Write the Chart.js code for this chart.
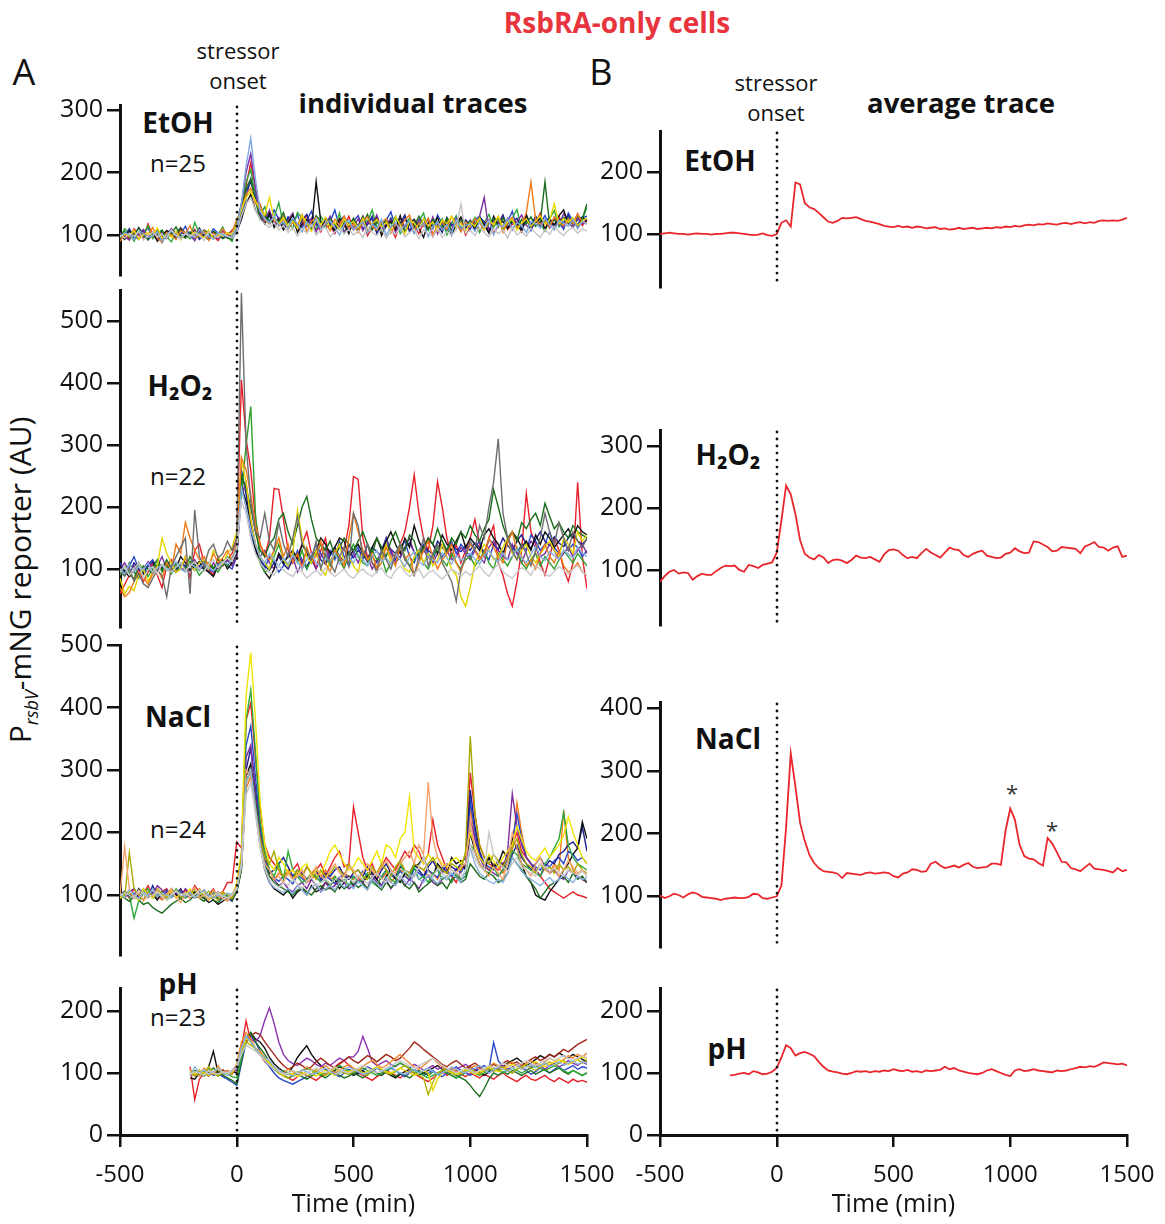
<!DOCTYPE html>
<html><head><meta charset="utf-8">
<script src="https://cdn.jsdelivr.net/npm/chart.js@4.4.1/dist/chart.umd.min.js"></script>
<style>
body{margin:0;background:#fff;width:1165px;height:1224px;position:relative;overflow:hidden;font-family:"Open Sans",sans-serif;color:#111;}
canvas{position:absolute;}
.t{position:absolute;transform:translate(-50%,-50%);white-space:nowrap;line-height:1;}
.b{font-weight:700;}
</style></head><body>
<div class="t b" style="left:617px;top:22px;font-size:28px;color:#e8343c">RsbRA-only cells</div>
<div class="t" style="left:24px;top:72px;font-size:36px">A</div>
<div class="t" style="left:601px;top:72px;font-size:36px">B</div>
<div class="t" style="left:238px;top:50px;font-size:22px">stressor</div>
<div class="t" style="left:238px;top:80px;font-size:22px">onset</div>
<div class="t b" style="left:413px;top:103px;font-size:27.5px">individual traces</div>
<div class="t" style="left:776px;top:82px;font-size:22px">stressor</div>
<div class="t" style="left:776px;top:112px;font-size:22px">onset</div>
<div class="t b" style="left:961px;top:103px;font-size:27.5px">average trace</div>
<div class="t b" style="left:178px;top:122px;font-size:28px">EtOH</div>
<div class="t" style="left:178px;top:163px;font-size:24px">n=25</div>
<div class="t b" style="left:180px;top:385px;font-size:28px">H₂O₂</div>
<div class="t" style="left:178px;top:476px;font-size:24px">n=22</div>
<div class="t b" style="left:178px;top:716px;font-size:28px">NaCl</div>
<div class="t" style="left:178px;top:829px;font-size:24px">n=24</div>
<div class="t b" style="left:178px;top:983px;font-size:28px">pH</div>
<div class="t" style="left:178px;top:1017px;font-size:24px">n=23</div>
<div class="t b" style="left:720px;top:160px;font-size:28px">EtOH</div>
<div class="t b" style="left:728px;top:454px;font-size:28px">H₂O₂</div>
<div class="t b" style="left:728px;top:738px;font-size:28px">NaCl</div>
<div class="t b" style="left:727px;top:1048px;font-size:28px">pH</div>
<div class="t" style="left:1012px;top:792px;font-size:22px;color:#333">*</div>
<div class="t" style="left:1052px;top:829px;font-size:22px;color:#333">*</div>
<div class="t" style="left:22px;top:580px;transform:translate(-50%,-50%) rotate(-90deg);font-size:30px">P<sub style="font-style:italic;font-size:18px">rsbV</sub>-mNG reporter (AU)</div>
<script>
const times = [-500,-480,-460,-440,-420,-400,-380,-360,-340,-320,-300,-280,-260,-240,-220,-200,-180,-160,-140,-120,-100,-80,-60,-40,-20,0,20,40,60,80,100,120,140,160,180,200,220,240,260,280,300,320,340,360,380,400,420,440,460,480,500,520,540,560,580,600,620,640,660,680,700,720,740,760,780,800,820,840,860,880,900,920,940,960,980,1000,1020,1040,1060,1080,1100,1120,1140,1160,1180,1200,1220,1240,1260,1280,1300,1320,1340,1360,1380,1400,1420,1440,1460,1480,1500];
const phTimes = [-200,-180,-160,-140,-120,-100,-80,-60,-40,-20,0,20,40,60,80,100,120,140,160,180,200,220,240,260,280,300,320,340,360,380,400,420,440,460,480,500,520,540,560,580,600,620,640,660,680,700,720,740,760,780,800,820,840,860,880,900,920,940,960,980,1000,1020,1040,1060,1080,1100,1120,1140,1160,1180,1200,1220,1240,1260,1280,1300,1320,1340,1360,1380,1400,1420,1440,1460,1480,1500];
const xTicks = [-500,0,500,1000,1500];
const etohTicksL = [100,200,300];
const h2o2TicksL = [100,200,300,400,500];
const naclTicksL = [100,200,300,400,500];
const phTicks = [0,100,200];
const etohTicksR = [100,200];
const h2o2TicksR = [100,200,300];
const naclTicksR = [100,200,300,400];

// EtOH individual traces
const etohLightGray = [100,95,103,98,106,92,99,104,97,101,95,108,100,94,102,97,103,99,91,105,100,96,103,98,95,
105,130,150,160,140,125,118,112,120,108,115,104,112,98,110,103,116,100,108,113,97,105,111,102,109,
100,107,96,112,104,99,110,95,106,101,113,97,104,109,94,108,102,98,111,96,105,100,108,150,103,
107,99,112,104,97,110,102,108,95,113,100,106,98,111,103,96,109,101,114,105,99,108,112,103,110,106];
const etohLightBlue = [97,104,100,93,108,102,96,99,105,90,101,107,98,94,103,100,96,109,102,98,93,104,100,97,99,
110,150,210,255,190,138,126,119,130,115,122,110,127,118,105,121,114,126,109,118,123,112,100,117,124,
108,115,121,103,118,110,125,99,113,120,107,116,122,104,111,119,97,114,121,108,117,103,124,110,115,
118,106,121,112,124,100,117,113,126,109,120,115,104,122,118,111,127,116,108,123,119,114,125,110,122,117];
const etohYellow = [96,102,99,107,93,100,104,98,111,95,101,97,106,92,103,99,105,100,96,108,94,101,98,104,100,
115,140,160,170,155,140,132,160,125,118,128,114,122,110,131,119,106,124,117,128,112,120,109,125,116,
122,111,127,104,118,125,113,120,108,129,116,102,123,119,110,126,114,121,107,124,118,130,112,119,106,
120,114,127,109,123,117,130,112,121,125,108,119,126,114,122,131,117,124,150,118,126,120,128,115,123,127];
const etohOrange = [90,101,97,108,94,103,99,112,96,88,104,100,93,107,102,115,95,99,106,91,103,97,110,100,105,
125,140,165,175,150,150,124,118,130,114,126,109,121,115,133,104,122,128,111,119,107,125,116,130,110,
118,104,122,129,113,108,120,126,103,117,111,124,132,106,119,114,127,101,115,122,109,130,118,105,121,
113,126,119,108,123,116,130,104,120,128,112,118,135,185,124,117,122,113,129,120,115,126,118,133,121,119];
const etohDarkGreen = [99,106,95,102,110,98,93,104,100,107,96,102,113,99,95,105,101,97,108,103,96,100,94,98,92,
120,140,175,190,155,125,133,118,127,121,136,113,124,116,128,119,110,131,122,114,126,117,109,123,115,
127,112,119,133,108,121,116,124,111,128,118,105,122,114,130,117,109,125,120,113,127,104,119,124,116,
122,115,128,110,119,126,113,127,117,123,110,125,118,129,114,121,185,116,124,119,128,122,117,130,126,150];
const etohBlack = [100,93,106,98,112,101,95,104,90,99,107,102,94,109,97,103,96,111,100,93,105,98,102,95,101,
108,125,150,165,140,128,118,135,112,125,108,120,132,104,117,125,110,185,121,112,115,108,126,119,102,
124,113,130,106,118,127,99,115,122,109,131,104,118,125,111,96,120,114,128,107,121,100,117,129,112,
121,108,126,117,103,130,115,122,110,124,118,106,133,113,120,127,109,124,116,131,140,118,125,112,128,122];
const etohPurple = [104,97,92,106,100,109,96,101,93,105,98,110,102,95,100,104,91,108,97,103,99,94,107,101,96,
115,150,200,230,175,130,122,140,116,128,112,124,135,108,119,113,127,105,121,117,130,110,125,103,118,
112,126,107,121,115,132,109,118,124,104,128,113,120,106,125,117,111,129,102,122,115,108,127,119,110,
124,112,130,160,106,125,119,113,127,108,121,132,115,110,126,119,123,111,128,116,134,120,112,127,118,124];
const etohNavy = [103,97,110,95,100,106,92,101,108,97,94,104,99,110,96,102,107,93,100,105,97,102,95,101,106,
110,135,170,185,160,135,124,130,118,126,112,129,121,108,124,133,115,120,110,126,118,105,122,130,112,
119,108,125,116,130,102,121,114,127,109,118,132,105,120,113,126,110,123,117,104,128,115,121,108,124,
117,110,129,121,106,125,118,132,112,120,127,109,123,116,130,114,121,128,111,125,119,132,116,124,129,121];
const etohGreen = [95,110,103,90,107,99,115,94,102,108,97,89,105,111,100,94,120,103,98,92,106,101,113,96,90,
118,150,185,205,160,132,145,120,128,152,116,124,110,136,127,115,122,108,130,119,126,111,135,104,120,
117,109,128,121,140,113,106,124,118,130,102,115,127,110,122,135,107,119,113,126,100,118,131,109,123,
116,128,104,120,133,112,125,108,119,127,141,110,122,115,130,118,106,126,139,113,121,128,117,132,124,145];
const etohBlue = [102,96,108,99,93,105,111,97,100,88,103,109,95,101,114,98,92,106,100,97,110,103,95,99,94,
104,125,160,190,165,148,130,122,140,125,115,128,119,133,112,124,138,116,109,127,121,140,113,118,106,
122,131,110,119,126,104,115,123,137,112,108,129,117,103,121,114,126,110,132,118,107,120,125,111,117,
109,124,130,115,104,119,127,112,121,138,110,116,129,107,123,118,131,114,126,120,109,135,122,117,128,130];
const etohRed = [98,105,92,110,101,95,118,99,104,93,107,100,96,112,103,97,109,94,101,106,98,91,104,99,108,
112,140,180,215,175,140,128,135,122,118,130,112,125,108,120,131,110,118,105,127,115,102,121,113,130,
108,117,124,99,112,126,105,118,111,96,120,128,107,115,102,119,125,98,113,109,121,104,116,127,100,
112,120,106,118,125,103,114,131,109,117,122,105,128,113,119,135,108,124,116,130,112,127,119,134,115,125];

// H2O2 individual traces
const h2LightGray = [95,105,90,100,110,85,98,104,92,108,100,95,103,110,98,105,112,100,96,108,115,102,110,118,112,
130,210,190,150,125,110,100,95,90,105,98,92,88,100,95,85,92,98,90,102,95,88,94,100,90,
85,95,100,92,88,96,102,90,85,98,105,95,88,92,100,86,94,98,90,84,92,100,95,88,96,
90,98,105,95,88,100,108,96,90,85,95,102,98,90,105,100,92,88,96,104,98,92,100,106,95,90];
const h2Gray = [95,88,102,80,93,76,70,85,98,90,55,104,120,135,150,60,195,120,105,130,140,118,125,145,130,
150,545,300,210,160,150,190,145,130,175,140,120,150,185,140,130,115,145,100,125,110,95,120,135,105,
190,170,120,140,110,95,130,115,100,125,140,115,105,90,120,150,105,125,140,110,95,80,48,100,120,
145,130,170,150,200,240,310,190,150,130,115,140,125,105,130,150,190,160,140,175,150,130,160,145,135,150];
const h2LightBlue = [100,92,108,96,104,99,110,94,102,106,97,103,112,100,95,108,104,99,110,102,97,106,112,108,115,
135,230,200,165,140,120,110,125,115,105,118,108,122,112,100,115,125,110,104,118,112,126,108,115,120,
110,124,116,105,120,130,112,118,108,125,115,104,119,128,112,106,121,115,110,126,118,108,122,114,120,
125,116,108,122,130,118,112,126,115,120,132,118,110,124,136,120,114,128,122,116,130,124,118,135,126,120];
const h2Orange = [70,55,62,80,95,88,75,92,100,85,110,98,140,125,175,150,130,115,120,105,125,110,118,130,115,
140,280,260,220,170,140,125,115,130,150,120,140,110,125,100,135,115,120,145,110,95,130,120,105,150,
190,160,130,115,125,100,110,135,120,105,140,115,125,90,110,130,145,120,100,115,125,140,110,95,120,
140,130,115,125,150,135,120,110,145,160,130,120,105,115,100,125,140,120,110,130,105,95,100,110,95,90];
const h2Yellow = [85,60,72,65,90,100,80,95,105,150,125,110,95,100,120,105,98,110,115,100,130,120,108,125,135,
160,276,240,180,140,120,110,100,130,150,115,105,125,195,150,120,110,130,100,90,115,125,140,110,120,
105,95,130,115,125,100,120,140,110,125,115,100,95,120,130,110,125,105,115,140,120,100,90,55,40,
70,110,125,140,130,115,120,135,150,125,115,130,140,120,110,125,135,145,130,120,150,140,125,160,145,155];
const h2DarkGreen = [100,90,110,95,85,105,100,92,108,98,115,102,95,110,100,120,105,98,112,108,100,115,110,105,118,
130,250,230,200,160,130,120,140,150,180,190,160,140,170,200,217,180,150,140,130,145,120,135,150,140,
130,145,160,140,125,150,135,120,145,160,140,130,155,145,120,135,150,140,165,145,130,150,140,160,150,
170,155,145,165,180,228,200,170,150,160,145,175,165,180,190,170,206,185,165,175,160,150,170,160,155,150];
const h2Green = [90,105,95,82,110,98,88,100,115,95,105,92,108,100,96,112,104,90,99,110,102,95,108,120,115,
140,220,300,362,190,110,95,100,120,140,115,105,125,110,130,100,115,125,140,120,105,130,115,100,125,
140,120,110,105,130,115,120,95,110,125,140,120,105,115,130,110,100,120,135,115,105,125,110,100,115,
120,105,115,130,110,100,125,115,105,120,135,110,100,115,125,105,120,110,100,115,130,120,110,125,115,105];
const h2Black = [105,95,88,100,110,92,98,105,115,100,108,95,102,120,110,98,105,112,100,95,88,105,115,100,110,
125,230,210,170,130,110,95,85,100,125,110,120,130,115,140,125,110,130,150,140,125,135,150,145,120,
130,140,125,115,135,150,130,145,160,140,125,150,135,170,145,130,150,140,125,155,140,130,145,160,135,
150,140,130,155,165,150,140,125,145,160,150,135,145,130,155,140,160,150,135,145,155,165,150,170,160,155];
const h2Purple = [100,110,95,105,90,100,112,98,105,120,100,95,110,102,98,108,115,100,105,95,110,100,108,115,105,
120,220,240,180,140,120,130,110,100,125,115,105,120,95,110,130,115,100,120,135,110,125,115,105,140,
125,110,130,120,100,115,125,140,130,110,120,135,150,125,115,130,120,110,125,140,130,115,120,135,125,
115,130,120,110,135,145,130,120,115,140,125,110,130,145,135,120,125,140,130,115,125,135,120,130,140,125];
const h2Navy = [105,98,92,110,100,95,104,112,98,102,108,96,100,110,105,98,112,104,100,108,102,110,106,114,110,
140,260,220,175,135,115,105,98,110,120,108,100,115,125,110,104,118,130,115,108,122,135,120,112,128,
118,130,124,112,135,128,120,140,132,125,118,135,142,128,120,138,130,124,145,135,126,140,132,128,138,
130,142,135,126,148,140,132,150,138,130,145,155,140,134,148,160,145,138,152,142,136,150,158,145,140,148];
const h2Blue = [110,95,105,120,100,92,108,115,98,105,110,100,95,108,102,112,98,105,110,100,95,108,112,105,100,
120,240,200,160,130,115,100,120,110,95,105,125,110,130,115,100,120,140,125,110,130,115,145,120,105,
125,135,115,140,120,110,130,150,125,115,135,145,120,110,130,140,125,115,135,120,130,145,125,140,130,
120,135,145,125,115,140,130,120,150,135,125,140,130,155,145,130,140,160,135,125,145,130,140,135,120,130];
const h2Red = [60,75,90,85,100,80,95,110,90,70,105,115,95,100,120,85,130,140,110,100,90,120,105,115,125,
150,405,310,260,180,140,120,150,230,228,180,130,110,120,140,160,125,100,130,150,110,125,140,130,170,
249,245,150,120,110,100,125,150,130,115,140,160,200,252,190,150,130,170,241,200,150,120,140,110,130,
150,180,140,120,150,170,110,90,60,40,80,130,222,160,140,110,90,120,150,130,100,80,110,240,120,68];

// NaCl individual traces
const naLightGray = [98,104,100,95,108,102,96,100,105,98,92,101,106,99,103,97,100,108,102,96,100,104,98,95,101,
110,145,260,280,230,175,140,125,118,112,120,115,125,118,110,122,128,115,120,126,118,124,130,122,128,
120,132,125,118,128,135,126,120,138,130,125,140,132,128,145,160,138,130,142,135,128,140,135,130,138,
180,160,145,140,200,165,150,145,138,150,160,145,140,135,130,150,145,138,142,136,130,140,135,132,138,130];
const naLightBlue = [102,96,108,100,94,105,99,110,97,103,100,95,107,101,98,104,96,102,108,99,95,101,97,103,100,
108,150,280,300,240,180,145,120,112,108,104,110,102,115,108,100,112,118,105,110,115,108,120,112,118,
110,122,115,108,125,118,112,128,120,115,130,122,116,135,126,120,132,125,118,130,124,135,128,120,140,
175,150,135,128,122,118,125,120,135,160,150,138,130,125,120,115,122,128,120,125,132,126,120,130,125,128];
const naPeach = [100,177,110,95,105,90,100,98,108,95,102,110,96,88,100,105,112,95,100,92,108,98,95,90,100,
115,150,300,290,230,180,150,140,125,130,120,135,125,130,140,120,135,145,130,125,140,150,135,130,145,
140,125,135,150,140,130,145,155,140,135,150,160,170,150,180,165,281,190,160,145,150,140,135,145,150,
220,170,150,140,130,145,135,125,150,200,175,150,140,130,150,160,140,135,145,130,140,155,145,135,140,130];
const naOlive = [105,95,168,110,100,92,105,98,110,102,95,100,108,96,104,99,110,95,100,106,98,92,104,100,95,
110,160,280,300,240,190,160,150,170,140,130,135,125,140,130,145,135,125,140,130,135,145,140,130,150,
135,140,130,125,145,135,150,140,130,145,155,140,135,150,145,140,150,160,145,140,135,150,145,140,170,
354,230,180,160,150,165,155,145,160,175,190,165,150,145,135,150,140,145,135,150,140,145,135,150,140,135];
const naYellow = [95,100,105,98,92,110,100,95,105,100,98,108,95,102,100,110,96,100,105,92,98,104,100,95,98,
120,170,420,488,380,250,180,150,140,160,150,135,140,130,145,150,130,140,135,150,170,180,165,150,140,
145,160,150,140,155,170,150,180,175,160,190,200,257,170,160,150,165,155,160,150,145,155,160,150,165,
200,180,160,150,165,155,145,160,170,180,210,190,170,160,155,165,175,160,170,180,195,225,200,180,160,150];
const naDarkGreen = [100,95,90,98,92,85,88,80,75,71,78,85,90,95,88,92,100,95,90,98,92,88,95,100,92,
105,140,280,300,250,190,150,130,120,115,110,105,100,108,112,105,100,110,115,108,112,105,118,110,115,
120,112,118,110,125,115,108,120,112,118,125,115,110,120,105,112,118,125,115,120,110,125,130,120,125,
150,140,130,125,135,130,120,125,135,160,150,140,130,120,110,95,105,115,120,125,130,120,135,125,130,120];
const naGreen = [95,105,100,63,90,102,110,95,100,105,92,98,110,100,95,105,100,108,96,100,104,95,100,98,102,
112,160,380,428,330,220,170,140,130,150,125,170,140,130,120,125,135,130,120,125,115,130,120,125,115,
130,120,125,135,120,115,130,140,125,120,150,135,130,145,125,130,120,135,140,125,130,120,135,125,130,
180,170,150,140,135,145,130,140,150,170,165,150,145,140,135,130,150,160,175,190,232,180,160,150,145,140];
const naPurple = [100,95,105,110,98,92,105,100,115,108,95,100,105,98,110,102,96,100,108,95,100,105,98,95,100,
110,150,320,340,260,200,160,140,125,115,120,110,105,115,120,110,125,115,105,120,110,115,125,120,110,
115,125,120,110,130,120,115,125,110,120,130,115,125,120,110,125,130,120,115,125,130,120,135,125,130,
220,190,160,145,140,135,130,140,170,262,210,180,160,150,140,130,145,135,140,130,125,140,135,130,125,120];
const naBlack = [98,105,100,95,110,102,96,100,92,105,98,110,100,95,102,98,105,100,95,88,92,85,90,95,100,
105,140,290,310,250,180,140,120,110,105,100,108,95,105,110,100,115,105,110,120,115,125,110,120,130,
115,125,120,130,135,125,115,130,140,125,120,135,130,145,150,160,140,130,150,140,135,160,150,155,140,
200,170,150,140,160,145,150,170,160,190,175,150,130,120,100,95,92,105,115,125,140,150,165,175,217,190];
const naNavy = [102,98,105,95,100,108,96,115,100,95,105,98,102,110,96,100,104,98,95,100,106,92,98,95,90,
108,150,300,335,270,200,160,135,140,150,160,145,130,140,135,125,130,140,125,135,130,140,145,130,125,
135,140,130,145,135,125,140,150,135,130,145,140,135,150,140,130,145,155,140,135,150,145,140,150,160,
268,210,170,150,160,145,155,150,140,165,180,160,150,140,150,160,145,155,150,165,170,180,185,175,209,170];
const naBlue = [100,106,98,103,95,110,100,104,97,102,108,96,101,105,99,103,95,100,107,98,102,96,100,94,98,
112,160,340,370,290,210,165,140,128,122,130,125,118,132,126,120,135,128,122,130,125,118,128,134,126,
130,124,138,130,122,135,128,140,132,126,138,130,124,142,135,128,140,134,128,145,138,130,142,136,148,
250,200,165,150,145,140,150,145,155,185,230,190,160,150,145,140,150,145,155,160,150,170,165,155,160,150];
const naOrange = [95,100,108,102,95,110,100,105,98,92,100,105,98,108,100,95,102,110,98,100,95,102,105,98,96,
110,145,270,290,240,180,150,130,125,135,130,140,125,135,130,120,125,135,130,140,125,130,120,135,130,
125,130,120,135,140,130,125,135,120,130,140,135,125,130,145,140,130,135,125,140,135,130,140,145,150,
240,190,160,150,140,150,145,135,150,170,247,200,160,150,140,130,145,135,150,140,236,160,140,130,125,120];
const naRed = [100,105,95,110,98,102,115,100,95,105,110,98,102,95,108,100,115,105,98,100,110,95,105,120,120,
185,175,380,407,320,240,180,160,150,140,130,135,140,150,130,145,135,140,150,130,145,160,170,145,150,
241,200,160,140,150,130,145,160,150,140,155,170,160,180,170,150,165,220,180,160,140,130,120,140,150,
296,230,180,160,150,145,140,150,160,180,200,170,160,150,140,130,120,110,105,100,95,100,105,100,98,95];

// pH individual traces (from -200 min)
const phLightGray = [98,102,100,96,104,100,98,102,100,104,
108,130,145,140,135,128,120,112,106,102,98,100,104,100,96,100,104,108,104,100,104,110,106,102,100,
104,108,112,108,104,100,104,108,112,116,120,116,112,108,112,116,120,124,118,112,108,104,100,104,108,
104,100,104,108,112,108,112,116,112,108,112,116,120,116,112,116,120,124,120,124,128,124,120,124,128,124];
const phLightBlue = [95,110,100,105,98,102,108,100,96,104,
110,140,160,150,140,130,125,120,110,105,100,98,95,100,105,102,98,100,104,108,102,98,100,105,110,
106,102,98,100,104,108,102,106,110,104,100,98,102,106,100,104,108,102,98,100,104,110,106,102,100,
104,108,112,106,100,104,110,106,102,108,112,106,110,114,108,112,116,110,114,118,112,116,120,114,118,116];
const phYellow = [102,98,104,100,96,102,106,100,98,102,
110,138,155,150,140,132,124,116,108,102,96,100,98,94,98,102,98,95,100,104,100,96,100,104,102,
106,102,98,102,106,110,106,102,100,104,108,104,100,96,100,104,100,72,90,100,104,100,98,102,106,
102,98,102,106,110,106,102,106,110,114,110,106,110,114,118,114,110,114,118,122,118,114,118,122,126,122];
const phOlive = [100,95,105,98,110,100,95,102,98,100,
112,135,150,145,140,130,120,115,110,100,95,92,98,102,100,95,98,105,100,96,102,108,104,100,98,
102,106,100,96,104,110,106,100,98,102,108,112,106,100,96,92,65,85,100,104,108,102,98,100,104,
106,102,98,104,108,102,106,110,104,100,106,110,114,108,104,110,114,118,112,116,120,114,118,122,116,120];
const phOrange = [105,100,95,108,102,98,112,100,104,98,
115,150,165,155,140,135,125,118,110,104,100,106,102,98,104,110,106,102,108,112,106,100,104,110,114,
108,104,110,116,120,114,108,112,118,124,130,122,116,110,106,112,118,124,116,110,104,108,102,98,104,
108,112,106,102,110,116,112,108,114,118,112,108,116,120,114,110,118,124,120,116,122,128,124,130,126,132];
const phGreen = [104,100,96,102,106,100,96,100,98,94,
92,125,158,150,138,130,122,114,106,100,104,100,96,100,104,108,104,100,96,100,104,108,112,108,104,
100,104,108,104,100,96,100,104,108,112,116,112,108,104,100,96,92,96,100,104,100,96,92,96,100,
104,100,96,100,104,108,104,100,104,108,104,100,104,108,112,108,104,108,112,108,104,100,104,100,96,100];
const phDarkGreen = [98,104,100,95,102,108,100,96,92,88,
82,120,155,165,150,140,130,118,108,100,96,92,95,98,94,90,95,100,96,92,98,102,96,92,95,
100,96,92,98,104,100,96,102,98,94,100,96,92,98,104,100,96,102,98,100,104,100,96,92,88,
80,70,62,75,90,100,96,102,98,104,100,96,100,104,98,102,106,100,104,108,102,98,104,100,96,100];
const phBrown = [100,96,104,100,95,102,98,105,100,98,
110,135,150,160,165,162,150,140,130,120,112,106,110,116,112,106,110,118,124,118,112,108,114,120,126,
120,116,122,128,124,118,124,130,126,120,124,132,140,150,145,138,132,126,120,114,110,116,120,114,108,
112,116,110,104,108,114,110,116,120,114,118,112,116,122,126,120,124,130,126,132,138,134,140,146,150,154];
const phPurple = [96,100,104,98,102,100,95,100,104,100,
105,140,160,155,150,160,185,205,180,150,130,120,115,112,118,124,120,114,110,116,112,118,124,120,126,
126,135,159,140,118,112,116,120,114,110,116,112,108,114,110,104,108,112,106,110,104,100,106,110,114,
108,104,110,106,100,104,108,112,106,110,114,108,104,110,116,112,106,112,116,110,114,120,116,112,118,114];
const phBlack = [92,90,100,98,110,135,100,104,98,102,
100,130,150,165,155,150,140,125,115,108,102,98,110,125,135,144,130,120,112,106,100,104,110,106,100,
96,100,104,98,102,108,104,100,96,92,98,102,106,100,96,100,104,108,112,106,100,96,92,98,104,
110,106,100,96,102,108,104,110,116,120,124,118,112,116,122,128,124,130,126,132,128,124,130,126,122,118];
const phBlue = [100,95,104,98,102,96,100,94,90,85,
80,115,150,160,150,135,120,110,100,92,88,85,82,86,90,94,98,102,96,100,104,98,94,100,106,
102,98,104,110,106,100,96,102,108,104,98,94,100,106,102,96,100,104,98,94,100,106,110,104,100,
96,102,108,112,106,149,120,110,104,100,106,110,104,98,102,108,104,100,106,110,104,108,112,106,110,108];
const phRed = [110,57,90,100,105,98,102,96,100,104,
112,140,184,150,140,130,118,112,106,100,96,92,88,94,100,96,92,88,94,98,104,110,116,120,112,
106,100,96,92,88,94,98,104,100,96,92,98,104,100,94,90,86,92,98,102,96,100,104,98,94,
100,96,92,98,94,90,96,100,94,90,86,92,96,90,88,92,96,90,86,92,88,84,90,86,88,85];

// average traces
const avgEtoh = [100,101,102,101,100,100,99,100,101,100,100,99,100,100,101,102,102,101,100,99,98,99,101,98,97,
100,118,122,112,183,180,150,143,140,134,127,120,118,121,126,125,126,127,124,121,120,118,116,113,112,
111,113,111,112,110,112,111,109,110,111,108,109,107,108,110,108,109,110,108,109,110,109,111,110,112,
111,113,112,114,115,114,116,115,117,116,115,117,118,116,118,119,117,119,118,121,122,121,122,121,123,126];
const avgH2o2 = [81,90,97,100,94,96,95,84,90,94,92,92,98,103,107,106,107,100,97,108,106,103,108,110,112,
128,180,236,222,190,148,126,120,117,124,120,111,116,117,115,111,116,123,120,119,121,117,113,125,132,
133,131,124,119,121,119,127,134,128,124,120,128,136,133,132,124,121,126,129,131,123,121,119,120,126,
128,135,130,127,128,146,145,141,137,130,131,137,136,135,134,127,138,141,145,137,136,131,136,138,121,123];
const avgNacl = [101,97,100,104,102,98,103,106,104,99,98,97,96,94,96,97,98,97,97,99,104,103,97,96,98,
100,117,210,328,275,217,188,166,153,145,140,139,138,136,129,137,136,135,134,137,138,136,137,138,137,
132,130,136,138,143,142,139,140,152,155,149,145,147,149,146,150,153,147,145,146,147,152,152,150,205,
240,222,182,164,160,159,153,149,193,184,170,155,154,145,143,140,146,152,144,143,142,140,138,145,140,142];
const avgPh = [96,97,99,100,98,103,101,98,99,102,
108,125,145,140,128,132,134,131,127,118,110,104,102,101,99,98,100,103,102,103,101,103,102,104,103,
106,104,103,105,102,103,101,104,103,104,105,110,106,108,104,102,100,99,98,100,104,106,103,100,97,
95,104,106,103,104,106,104,103,102,101,104,103,104,106,108,110,109,111,110,113,117,116,115,114,115,112];

const FONT = "'Open Sans', sans-serif";
const INK = '#111';

const onsetLine = {
  id: 'onsetLine',
  afterDatasetsDraw(chart) {
    const {ctx, chartArea: a, scales: {x}} = chart;
    const px = Math.round(x.getPixelForValue(0));
    ctx.save();
    ctx.setLineDash([0.01, 7]);
    ctx.lineCap = 'round';
    ctx.lineWidth = 2.8;
    ctx.strokeStyle = INK;
    ctx.beginPath();
    ctx.moveTo(px, a.top + 2);
    ctx.lineTo(px, a.bottom);
    ctx.stroke();
    ctx.restore();
  }
};

function panel(p) {
  const c = document.createElement('canvas');
  c.width = p.w; c.height = p.h;
  c.style.left = p.left + 'px'; c.style.top = p.top + 'px';
  document.body.appendChild(c);
  const datasets = p.series.map(s => ({
    data: s[0].map((v, i) => ({x: p.t[i], y: v})),
    borderColor: s[1], borderWidth: s[2] || 1.4,
    pointRadius: 0, fill: false, tension: 0
  }));
  new Chart(c, {
    type: 'line',
    data: {datasets},
    plugins: [onsetLine],
    options: {
      responsive: false, animation: false, devicePixelRatio: 1,
      layout: {padding: {top: 20, right: 33, bottom: p.showX ? 0 : 20, left: 0}},
      plugins: {legend: {display: false}, tooltip: {enabled: false}},
      scales: {
        x: {
          type: 'linear', min: -500, max: 1500, display: p.showX,
          afterBuildTicks: s => { s.ticks = xTicks.map(v => ({value: v})); },
          afterFit: s => { if (p.showX) { s.height = 89; s.paddingLeft = 0; s.paddingRight = 0; } },
          border: {display: true, width: 3, color: INK},
          grid: {drawOnChartArea: false, drawTicks: true, tickLength: 12, lineWidth: 2.5, color: INK},
          ticks: {font: {family: FONT, size: 24}, color: INK, padding: 14, maxRotation: 0, autoSkip: false, callback: v => String(v)},
          title: {display: true, text: 'Time (min)', font: {family: FONT, size: 25}, color: INK, padding: {top: 0, bottom: 4}}
        },
        y: {
          type: 'linear', min: p.min, max: p.max,
          afterBuildTicks: s => { s.ticks = p.ticks.map(v => ({value: v})); },
          afterFit: s => { s.width = 120; },
          border: {display: true, width: 3, color: INK},
          grid: {drawOnChartArea: false, drawTicks: true, tickLength: 13, lineWidth: 2.5, color: INK},
          ticks: {font: {family: FONT, size: 25}, color: INK, padding: 4, autoSkip: false, callback: v => String(v)}
        }
      }
    }
  });
}

const RED_AVG = '#e8262b';
panel({left: 0, top: 85, w: 620, h: 210, min: 36, max: 308, ticks: etohTicksL, t: times, showX: false, series: [
  [etohLightGray, '#c4c4c4'], [etohLightBlue, '#7fa9e2'], [etohYellow, '#e8d800'], [etohOrange, '#f07d1e'],
  [etohDarkGreen, '#1c6e22'], [etohBlack, '#111111'], [etohPurple, '#7e2fa0'], [etohNavy, '#1c2a8c'],
  [etohGreen, '#2ea83a'], [etohBlue, '#2444c8'], [etohRed, '#e8202a']]});
panel({left: 0, top: 270, w: 620, h: 377, min: 6.5, max: 550, ticks: h2o2TicksL, t: times, showX: false, series: [
  [h2LightGray, '#c8c8cc'], [h2Gray, '#6e6e6e'], [h2LightBlue, '#8ab0e0'], [h2Orange, '#f07a1a'], [h2Yellow, '#e2d400'],
  [h2DarkGreen, '#1a6e1a'], [h2Green, '#2ea02e'], [h2Black, '#111111'], [h2Purple, '#7b2d9b'], [h2Navy, '#1c1c8c'],
  [h2Blue, '#2646c8'], [h2Red, '#e8202a']]});
panel({left: 0, top: 625, w: 620, h: 350, min: 4, max: 500, ticks: naclTicksL, t: times, showX: false, series: [
  [naLightGray, '#c8c8c8'], [naLightBlue, '#8ab0e0'], [naPeach, '#f2a46e'], [naOlive, '#a9a900'], [naYellow, '#f0e400'],
  [naDarkGreen, '#1c6b1c'], [naGreen, '#2ea83a'], [naPurple, '#7c2c9c'], [naBlack, '#111111'], [naNavy, '#1c1c8c'],
  [naBlue, '#2848cc'], [naOrange, '#f07c1c'], [naRed, '#e8202a']]});
panel({left: 0, top: 968, w: 620, h: 256, min: 0, max: 237, ticks: phTicks, t: phTimes, showX: true, series: [
  [phLightGray, '#c8c8c8'], [phLightBlue, '#8ab4e4'], [phYellow, '#e8d800'], [phOlive, '#b4b400'], [phOrange, '#f08a30'],
  [phGreen, '#2ea83a'], [phDarkGreen, '#1e6e1e'], [phBrown, '#a0281a'], [phPurple, '#8a30b0'], [phBlack, '#111111'],
  [phBlue, '#2848cc'], [phRed, '#e8202a']]});

panel({left: 540, top: 111, w: 620, h: 196, min: 14.5, max: 266, ticks: etohTicksR, t: times, showX: false, series: [[avgEtoh, RED_AVG, 1.8]]});
panel({left: 540, top: 410, w: 620, h: 235, min: 11, max: 326, ticks: h2o2TicksR, t: times, showX: false, series: [[avgH2o2, RED_AVG, 1.8]]});
panel({left: 540, top: 682, w: 620, h: 285, min: 19, max: 410, ticks: naclTicksR, t: times, showX: false, series: [[avgNacl, RED_AVG, 1.8]]});
panel({left: 540, top: 968, w: 620, h: 256, min: 0, max: 237, ticks: phTicks, t: phTimes, showX: true, series: [[avgPh, RED_AVG, 1.8]]});
</script>
</body></html>
